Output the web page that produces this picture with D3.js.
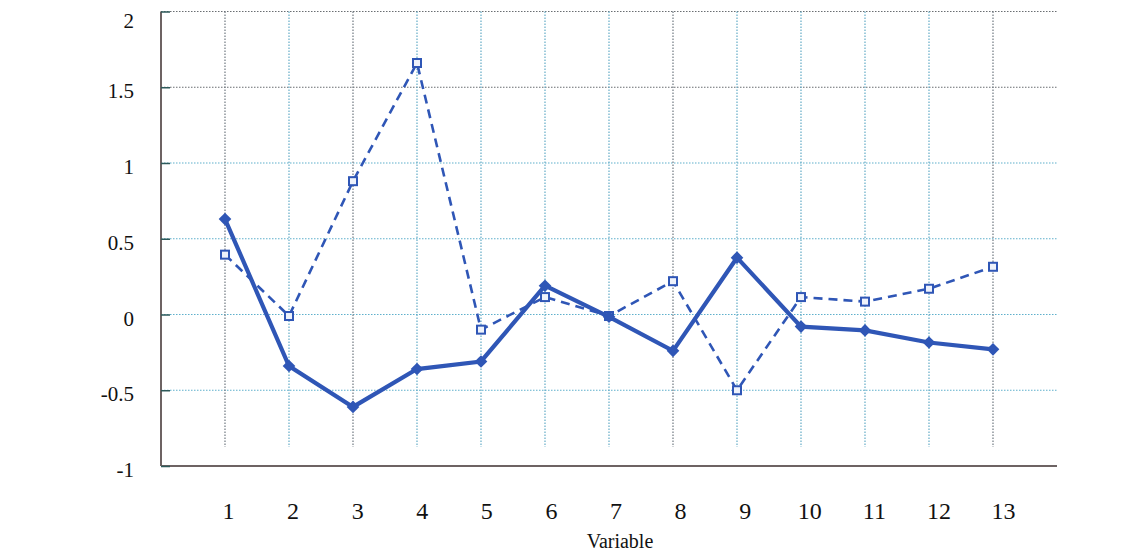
<!DOCTYPE html>
<html lang="en">
<head>
    <meta charset="UTF-8">
    <script src="https://d3js.org/d3.v7.min.js"></script>
    <title>Variable chart</title>
    <style>
        body { margin: 0; background: #fff; }
    </style>
</head>
<body>
    <div id="my_dataviz"></div>
</body>
<script>
    // data
    const variables = [1, 2, 3, 4, 5, 6, 7, 8, 9, 10, 11, 12, 13];
    const solidValues = [0.63, -0.34, -0.61, -0.36, -0.31, 0.19, -0.015, -0.24, 0.375, -0.08, -0.105, -0.185, -0.23];
    const dashedValues = [0.395, -0.01, 0.88, 1.66, -0.10, 0.115, -0.01, 0.22, -0.50, 0.115, 0.085, 0.17, 0.315];
    const yTicks = [-1, -0.5, 0, 0.5, 1, 1.5, 2];
    const yGrid = [-0.5, 0, 0.5, 1, 1.5, 2];

    const W = 1140, H = 551;
    const margin = {top: 11.5, right: 83, bottom: 85, left: 161},
    width = W - margin.left - margin.right,
    height = H - margin.top - margin.bottom;

    const blue = "#2f56b6";
    const serif = "'Liberation Serif', 'Times New Roman', serif";

    let svg = d3.select("#my_dataviz").append("svg")
                .attr("width", W)
                .attr("height", H)
                .append("g")
                .attr("transform", "translate(" + margin.left + "," + margin.top + ")");

    let x = d3.scaleLinear().domain([0, 14]).range([0, width]);
    let y = d3.scaleLinear().domain([-1, 2]).range([height, 0]);
    // the tick labels drift slightly right of the grid in the original
    let xLabel = d3.scaleLinear().domain([1, 13]).range([x(1) + 3, x(13) + 10]);

    //horizontal grid
    svg.append("g").selectAll("line").data(yGrid).enter()
       .append("line")
       .attr("x1", 0).attr("x2", width)
       .attr("y1", d => y(d)).attr("y2", d => y(d))
       .attr("stroke", d => d >= 1.5 ? "#6a6e72" : "#5fb0cc")
       .attr("stroke-width", 1.2)
       .attr("stroke-dasharray", "1.5,1.5");

    //vertical grid (stops short of the x axis)
    svg.append("g").selectAll("line").data(variables).enter()
       .append("line")
       .attr("x1", d => x(d)).attr("x2", d => x(d))
       .attr("y1", y(2)).attr("y2", y(-0.875))
       .attr("stroke", d => [1, 3, 8, 13].includes(d) ? "#6f7880" : "#63abc6")
       .attr("stroke-width", 1.2)
       .attr("stroke-dasharray", "1.5,1.5");

    //axes lines
    svg.append("line")
       .attr("x1", 0).attr("x2", 0).attr("y1", y(2)).attr("y2", y(-1))
       .attr("stroke", "#6d6363").attr("stroke-width", 2);
    svg.append("line")
       .attr("x1", 0).attr("x2", width).attr("y1", y(-1)).attr("y2", y(-1))
       .attr("stroke", "#6d6363").attr("stroke-width", 2);

    //Y axis ticks and labels
    let yAxis = svg.append("g")
       .call(d3.axisRight(y).tickValues(yTicks).tickSize(9).tickFormat(""));
    yAxis.select(".domain").remove();
    yAxis.selectAll(".tick line").attr("stroke", "#2e5a5a").attr("stroke-width", 1.5);

    svg.append("g").selectAll("text").data(yTicks).enter()
       .append("text")
       .attr("x", -27)
       .attr("y", d => y(d) + (d === 2 ? 16 : 11))
       .attr("text-anchor", "end")
       .style("font-family", serif)
       .style("font-size", "21px")
       .style("fill", "#111")
       .text(d => d);

    //X axis labels
    let xAxis = svg.append("g")
       .attr("transform", "translate(0," + height + ")")
       .call(d3.axisBottom(xLabel).tickValues(variables).tickSize(0).tickPadding(36).tickFormat(d3.format("d")));
    xAxis.select(".domain").remove();
    xAxis.selectAll("text")
       .style("font-family", serif)
       .style("font-size", "24px")
       .style("fill", "#111");

    //X axis title
    svg.append("text").attr("text-anchor", "middle")
       .attr("x", 620 - margin.left)
       .attr("y", 548 - margin.top)
       .style("font-family", serif)
       .style("font-size", "20px")
       .style("fill", "#111")
       .text("Variable");

    let line = d3.line().x((d, i) => x(variables[i])).y(d => y(d));

    //dashed series
    svg.append("path").datum(dashedValues)
       .attr("d", line)
       .attr("fill", "none")
       .attr("stroke", blue)
       .attr("stroke-width", 2.6)
       .attr("stroke-dasharray", "9,6");
    svg.append("g").selectAll("rect").data(dashedValues).enter()
       .append("rect")
       .attr("x", (d, i) => x(variables[i]) - 4)
       .attr("y", d => y(d) - 4)
       .attr("width", 8).attr("height", 8)
       .attr("fill", "#eef2fb")
       .attr("stroke", blue)
       .attr("stroke-width", 2);

    //solid series
    svg.append("path").datum(solidValues)
       .attr("d", line)
       .attr("fill", "none")
       .attr("stroke", blue)
       .attr("stroke-width", 4.2);
    svg.append("g").selectAll("path").data(solidValues).enter()
       .append("path")
       .attr("d", d3.symbol().type(d3.symbolSquare).size(80))
       .attr("transform", (d, i) => "translate(" + x(variables[i]) + "," + y(d) + ") rotate(45)")
       .attr("fill", blue);
</script>
</html>
